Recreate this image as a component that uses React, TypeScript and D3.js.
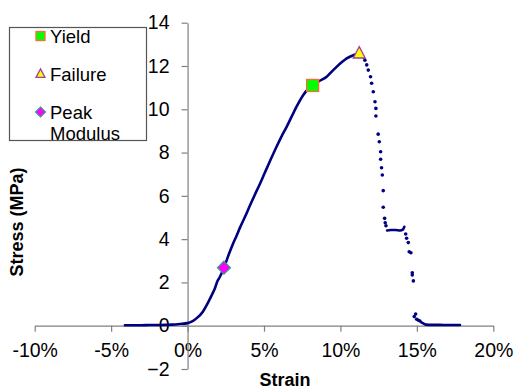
import React, { useRef, useEffect } from 'react';
import * as d3 from 'd3';

// dense part of the trace (strain in %, stress in MPa)
const strainMain = [-4.1, -3.5, -3, -2.5, -2, -1.5, -1, -0.5, 0, 0.3, 0.6, 1.0, 1.25, 1.5, 1.79, 1.95, 2.11, 2.38, 2.7, 2.98, 3.2, 3.42, 3.75, 4.08, 4.4, 4.73, 5.06, 5.4, 5.82, 6.15, 6.48, 6.8, 7.13, 7.57, 7.9, 8.18, 8.6, 9.1, 9.4, 9.75, 10.1, 10.41, 10.84, 11.1, 11.23, 11.4, 11.5];
const stressMain = [0.02, 0.02, 0.02, 0.03, 0.03, 0.04, 0.05, 0.08, 0.12, 0.2, 0.35, 0.65, 0.95, 1.3, 1.73, 2.05, 2.25, 2.68, 3.3, 3.8, 4.15, 4.52, 5.02, 5.55, 6.05, 6.55, 7.08, 7.62, 8.27, 8.75, 9.19, 9.65, 10.12, 10.66, 10.95, 11.1, 11.3, 11.5, 11.72, 11.96, 12.18, 12.35, 12.5, 12.55, 12.58, 12.5, 12.4];

const strainPlateau = [13.05, 13.3, 13.6, 13.9, 14.1, 14.18];
const stressPlateau = [4.4, 4.42, 4.42, 4.4, 4.45, 4.57];

const strainTail = [15.3, 15.42, 15.6, 16, 16.5, 17, 17.5, 17.82];
const stressTail = [0.15, 0.11, 0.05, 0.04, 0.04, 0.03, 0.03, 0.03];

// sparse dots on the failure drop
const strainDrop = [11.6, 11.72, 11.82, 11.97, 12.04, 12.15, 12.26, 12.32, 12.32, 12.47, 12.54, 12.63, 12.63, 12.69, 12.74, 12.8, 12.8, 12.89, 12.93, 12.98, 14.27, 14.33, 14.44, 14.5, 14.61, 14.7, 14.7, 14.77, 14.83, 14.92, 14.99, 15.1, 15.2];
const stressDrop = [12.27, 12.05, 11.81, 11.5, 11.2, 10.81, 10.35, 10.04, 9.69, 8.85, 8.5, 8.04, 7.69, 7.3, 6.96, 6.24, 5.47, 4.96, 4.76, 4.62, 4.24, 4.04, 3.84, 3.42, 3.37, 2.45, 2.34, 2.07, 0.42, 0.54, 0.3, 0.25, 0.22];

const markerNames = ['Yield', 'Failure', 'Peak Modulus'];
const markerStrain = [8.18, 11.23, 2.38];
const markerStress = [11.1, 12.58, 2.68];

const xTicks = [-10, -5, 0, 5, 10, 15, 20];
const yTicks = [-2, 0, 2, 4, 6, 8, 10, 12, 14];

function App() {
  const ref = useRef<SVGSVGElement>(null);
  const width = 515;
  const height = 390;

  useEffect(() => {
    const svg = d3.select(ref.current);
    svg.selectAll('*').remove();
    const font = 'Arial, "Liberation Sans", sans-serif';

    const x = d3.scaleLinear().domain([-10, 20]).range([34.7, 493.3]);
    const y = d3.scaleLinear().domain([-2, 14]).range([369, 22.7]);

    const xAxis = svg.append('g')
      .attr('transform', `translate(0, ${y(0)})`)
      .call(d3.axisBottom(x).tickValues(xTicks).tickFormat(d => `${d}%`).tickSize(6).tickPadding(11.5).tickSizeOuter(0));
    const yAxis = svg.append('g')
      .attr('transform', `translate(${x(0)}, 0)`)
      .call(d3.axisLeft(y).tickValues(yTicks).tickSize(6).tickPadding(12).tickSizeOuter(0));
    [xAxis, yAxis].forEach(a => {
      a.selectAll('path, line').attr('stroke', '#808080').attr('stroke-width', 1.2);
      a.selectAll('text').attr('font-family', font).attr('font-size', 19.5).attr('fill', '#000');
    });

    svg.append('text')
      .attr('x', 285).attr('y', 386)
      .attr('text-anchor', 'middle')
      .attr('font-family', font).attr('font-size', 18).attr('font-weight', 'bold')
      .text('Strain');
    svg.append('text')
      .attr('transform', 'translate(23, 222) rotate(-90)')
      .attr('text-anchor', 'middle')
      .attr('font-family', font).attr('font-size', 18).attr('font-weight', 'bold')
      .text('Stress (MPa)');

    const line = d3.line<number>()
      .x(i => x(i[0]))
      .y(i => y(i[1]))
      .curve(d3.curveMonotoneX);
    const segs = [
      [strainMain, stressMain],
      [strainPlateau, stressPlateau],
      [strainTail, stressTail],
    ];
    segs.forEach(([sx, sy]) => {
      svg.append('path')
        .datum(sx.map((v, i) => [v, sy[i]]))
        .attr('d', line as any)
        .attr('fill', 'none')
        .attr('stroke', '#000080')
        .attr('stroke-width', 2.6)
        .attr('stroke-linecap', 'round');
    });

    svg.append('g').selectAll('circle')
      .data(strainDrop)
      .enter()
        .append('circle')
          .attr('cx', d => x(d))
          .attr('cy', (d, i) => y(stressDrop[i]))
          .attr('r', 1.8)
          .attr('fill', '#000080');

    // markers
    const drawMarker = (g: any, k: number, cx: number, cy: number, s: number) => {
      if (k === 0) {
        g.append('rect')
          .attr('x', cx - s / 2).attr('y', cy - s / 2).attr('width', s).attr('height', s)
          .attr('fill', '#00ff00').attr('stroke', '#ff6a33').attr('stroke-width', 1.3);
      } else if (k === 1) {
        const h = s * 0.95;
        g.append('path')
          .attr('d', `M${cx},${cy - h * 0.6} L${cx + s / 2},${cy + h * 0.4} L${cx - s / 2},${cy + h * 0.4} Z`)
          .attr('fill', '#ffff00').attr('stroke', '#a040a0').attr('stroke-width', 1.3);
      } else {
        const r = s / 2;
        g.append('path')
          .attr('d', `M${cx},${cy - r} L${cx + r},${cy} L${cx},${cy + r} L${cx - r},${cy} Z`)
          .attr('fill', '#ff00ff').attr('stroke', '#3a9a8a').attr('stroke-width', 1.2);
      }
    };
    markerNames.forEach((n, k) => {
      drawMarker(svg, k, x(markerStrain[k]), y(markerStress[k]), k === 2 ? 13 : 12);
    });

    // legend
    const lg = svg.append('g');
    lg.append('rect')
      .attr('x', 9.5).attr('y', 27.5).attr('width', 137).attr('height', 113)
      .attr('fill', '#fff').attr('stroke', '#555').attr('stroke-width', 1.2);
    const rowY = [36, 74, 112];
    markerNames.forEach((n, k) => {
      drawMarker(lg, k, 40.5, rowY[k], k === 2 ? 10 : 9);
      const words = n.split(' ');
      words.forEach((w, j) => {
        lg.append('text')
          .attr('x', 50).attr('y', rowY[k] + 6.5 + j * 21)
          .attr('font-family', font).attr('font-size', 18.5)
          .text(w);
      });
    });
  }, []);

  return (
    <svg ref={ref} width={width} height={height}
      style={{ position: 'absolute', left: 0, top: 0, background: '#fff' }} />
  );
}

export default App;
